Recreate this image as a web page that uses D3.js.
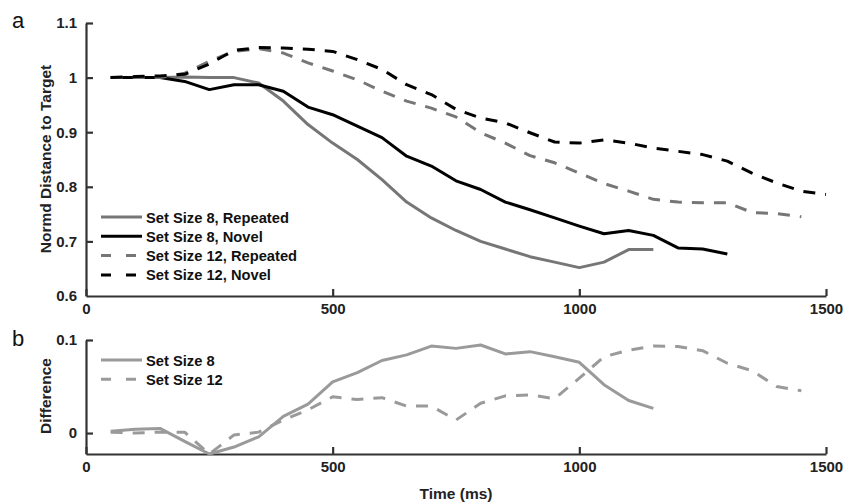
<!DOCTYPE html>
<html><head><meta charset="utf-8">
<script src="https://cdn.jsdelivr.net/npm/d3@7"></script>
<style>
html,body{margin:0;padding:0;background:#fff;}
svg{display:block;font-family:"Liberation Sans",Arial,sans-serif;}
</style></head>
<body>
<svg id="c" width="845" height="502"></svg>
<script>
// ---- data ----
const timeTicks = [0, 500, 1000, 1500];
const topYTicks = [0.6, 0.7, 0.8, 0.9, 1.0, 1.1];
const topYTickLabels = ["0.6", "0.7", "0.8", "0.9", "1", "1.1"];
const botYTicks = [0, 0.1];
const botYTickLabels = ["0", "0.1"];

const tSS8Rep = [50,100,150,200,250,300,350,400,450,500,550,600,650,700,750,800,850,900,950,1000,1050,1100,1150];
const ss8Repeated = [1.0,1.0,1.0,1.001,1.0,1.0,0.99,0.957,0.914,0.88,0.85,0.813,0.772,0.743,0.72,0.70,0.686,0.672,0.662,0.652,0.662,0.685,0.685];

const tSS8Nov = [50,100,150,200,250,300,350,400,450,500,550,600,650,700,750,800,850,900,950,1000,1050,1100,1150,1200,1250,1300];
const ss8Novel = [1.0,1.0,1.0,0.993,0.978,0.987,0.987,0.975,0.946,0.932,0.911,0.89,0.856,0.838,0.811,0.795,0.772,0.758,0.743,0.728,0.714,0.72,0.711,0.688,0.686,0.677];

const tSS12Rep = [50,100,150,200,250,300,350,400,450,500,550,600,650,700,750,800,850,900,950,1000,1050,1100,1150,1200,1250,1300,1350,1400,1450];
const ss12Repeated = [1.0,1.0,1.0,1.008,1.03,1.048,1.053,1.045,1.027,1.012,0.996,0.975,0.957,0.944,0.928,0.899,0.88,0.857,0.844,0.825,0.806,0.792,0.777,0.772,0.771,0.771,0.753,0.751,0.745];

const tSS12Nov = [50,100,150,200,250,300,350,400,450,500,550,600,650,700,750,800,850,900,950,1000,1050,1100,1150,1200,1250,1300,1350,1400,1450,1500];
const ss12Novel = [1.0,1.002,1.003,1.006,1.025,1.05,1.055,1.054,1.052,1.048,1.033,1.015,0.987,0.969,0.942,0.926,0.917,0.899,0.882,0.88,0.886,0.88,0.871,0.865,0.859,0.847,0.825,0.807,0.792,0.786];

const tDiff8 = [50,100,150,200,250,300,350,400,450,500,550,600,650,700,750,800,850,900,950,1000,1050,1100,1150];
const diff8 = [0.002,0.004,0.005,-0.009,-0.0225,-0.015,-0.004,0.018,0.031,0.055,0.065,0.078,0.084,0.0935,0.091,0.0946,0.085,0.0875,0.082,0.076,0.052,0.035,0.0265];

const tDiff12 = [50,100,150,200,250,300,350,400,450,500,550,600,650,700,750,800,850,900,950,1000,1050,1100,1150,1200,1250,1300,1350,1400,1450];
const diff12 = [0.001,0.0,0.001,0.001,-0.0225,-0.002,0.001,0.014,0.025,0.039,0.036,0.038,0.029,0.029,0.014,0.032,0.040,0.041,0.037,0.059,0.082,0.089,0.0935,0.093,0.0885,0.075,0.067,0.050,0.0455];

const topSeries = [
  {name:"Set Size 8, Repeated", t:tSS8Rep, v:ss8Repeated, color:"#767676", dash:null},
  {name:"Set Size 8, Novel", t:tSS8Nov, v:ss8Novel, color:"#000000", dash:null},
  {name:"Set Size 12, Repeated", t:tSS12Rep, v:ss12Repeated, color:"#767676", dash:"12,10"},
  {name:"Set Size 12, Novel", t:tSS12Nov, v:ss12Novel, color:"#000000", dash:"12,10"}
];
const botSeries = [
  {name:"Set Size 8", t:tDiff8, v:diff8, color:"#9a9a9a", dash:null},
  {name:"Set Size 12", t:tDiff12, v:diff12, color:"#9a9a9a", dash:"12,10"}
];

// ---- drawing ----
const svg = d3.select("#c");
const axisColor = "#333";
const x = d3.scaleLinear().domain([0,1500]).range([86,826]);
const yTop = d3.scaleLinear().domain([0.6,1.1]).range([296,23]);
const yBot = d3.scaleLinear().domain([-0.0225,0.1]).range([454,340]);

function styleAxis(g){
  g.selectAll("path.domain").attr("stroke",axisColor).attr("stroke-width",2.2);
  g.selectAll(".tick line").attr("stroke",axisColor).attr("stroke-width",2.2);
  g.selectAll(".tick text").attr("fill","#222").attr("font-size","15px").attr("font-weight","bold")
    .attr("font-family","'Liberation Sans',Arial,sans-serif");
}

function panel(y, yTicks, yLabels, series, ylabel, ylabelY, legendY0, panelLetter, letterY){
  const gx = svg.append("g").attr("transform",`translate(0,${y.range()[0]})`)
    .call(d3.axisBottom(x).tickValues(timeTicks).tickFormat(d3.format("d")).tickSizeInner(-7).tickSizeOuter(0).tickPadding(7));
  styleAxis(gx);
  const gy = svg.append("g").attr("transform",`translate(${x.range()[0]},0)`)
    .call(d3.axisLeft(y).tickValues(yTicks).tickFormat((d,i)=>yLabels[i]).tickSizeInner(-7).tickSizeOuter(0).tickPadding(9));
  styleAxis(gy);
  gy.selectAll(".tick").filter(d=>d===yTicks[0] && y===yTop).select("line").remove();

  const line = d3.line().x(d=>x(d[0])).y(d=>y(d[1]));
  series.forEach(s=>{
    svg.append("path").datum(s.t.map((t,i)=>[t,s.v[i]]))
      .attr("d",line).attr("fill","none").attr("stroke",s.color).attr("stroke-width",3)
      .attr("stroke-dasharray",s.dash).attr("stroke-linejoin","round");
  });

  // legend
  series.forEach((s,i)=>{
    const ly = legendY0 + i*19.3;
    svg.append("line").attr("x1",101).attr("x2",142).attr("y1",ly).attr("y2",ly)
      .attr("stroke",s.color).attr("stroke-width",3).attr("stroke-dasharray",s.dash ? "10,15" : null);
    svg.append("text").attr("x",146).attr("y",ly+5.5).text(s.name)
      .attr("font-size","14.7px").attr("font-weight","bold").attr("fill","#111");
  });

  svg.append("text").attr("transform",`translate(51,${ylabelY}) rotate(-90)`).attr("text-anchor","middle")
    .attr("font-size","15.5px").attr("font-weight","bold").attr("fill","#222").text(ylabel);
  svg.append("text").attr("x",12).attr("y",letterY).attr("font-size","22px").attr("fill","#111")
    .attr("font-family","'Liberation Sans',Arial,sans-serif").text(panelLetter);
}

panel(yTop, topYTicks, topYTickLabels, topSeries, "Normd Distance to Target", 159, 217, "a", 28);
panel(yBot, botYTicks, botYTickLabels, botSeries, "Difference", 396, 360, "b", 346);

svg.append("text").attr("x",456).attr("y",499).attr("text-anchor","middle")
  .attr("font-size","15.5px").attr("font-weight","bold").attr("fill","#222").text("Time (ms)");
</script>
</body></html>
